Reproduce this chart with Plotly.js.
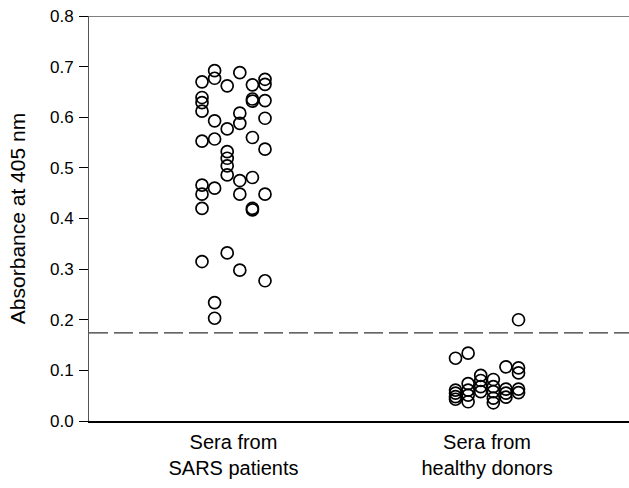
<!DOCTYPE html>
<html><head><meta charset="utf-8">
<script src="https://cdn.plot.ly/plotly-3.0.1.min.js"></script>
<style>html,body{margin:0;padding:0;background:#fff}#c{width:629px;height:488px}</style>
</head><body><div id="c"></div>
<script>
// Categories and tick labels
const categories = ["Sera from<br>SARS patients", "Sera from<br>healthy donors"];
const yTicks = [0, 0.1, 0.2, 0.3, 0.4, 0.5, 0.6, 0.7, 0.8];
const yTickText = ["0.0","0.1","0.2","0.3","0.4","0.5","0.6","0.7","0.8"];
const cutoff = 0.174;

// SARS patients: absorbance values and the column (0-5) each dot sits in
const sarsValues = [0.670,0.639,0.629,0.612,0.553,0.466,0.448,0.420,0.315,
                    0.692,0.677,0.593,0.557,0.460,0.234,0.203,
                    0.662,0.577,0.532,0.519,0.504,0.486,0.332,
                    0.688,0.608,0.588,0.475,0.448,0.298,
                    0.664,0.636,0.632,0.560,0.481,0.420,0.417,
                    0.675,0.665,0.633,0.598,0.537,0.448,0.277];
const sarsColumn = [0,0,0,0,0,0,0,0,0,
                    1,1,1,1,1,1,1,
                    2,2,2,2,2,2,2,
                    3,3,3,3,3,3,
                    4,4,4,4,4,4,4,
                    5,5,5,5,5,5,5];

// Healthy donors
const healthyValues = [0.124,0.061,0.055,0.048,0.043,
                       0.134,0.074,0.061,0.051,0.038,
                       0.090,0.080,0.068,0.058,
                       0.082,0.068,0.058,0.045,0.036,
                       0.107,0.063,0.055,0.047,
                       0.200,0.105,0.095,0.063,0.056];
const healthyColumn = [0,0,0,0,0,
                       1,1,1,1,1,
                       2,2,2,2,
                       3,3,3,3,3,
                       4,4,4,4,
                       5,5,5,5,5];

const colStep = 0.0497;
function xs(group, cols){ return cols.map(c => group + (c - 2.5) * colStep); }

const marker = {symbol:'circle-open', size:12, color:'#000', line:{width:1.7, color:'#000'}};
const traces = [
  {type:'scatter', mode:'markers', x: xs(1, sarsColumn), y: sarsValues, marker: marker, hoverinfo:'y'},
  {type:'scatter', mode:'markers', x: xs(2, healthyColumn), y: healthyValues, marker: marker, hoverinfo:'y'}
];

const font = "Liberation Sans, Arial, sans-serif";
const layout = {
  width:629, height:488,
  margin:{l:89, r:0, t:16, b:67},
  paper_bgcolor:'#fff', plot_bgcolor:'#fff',
  showlegend:false,
  font:{family:font, color:'#000'},
  xaxis:{range:[0.43,2.56], tickvals:[1,2], ticktext:categories, ticks:'',
         ticklabelstandoff:2,
         showgrid:false, zeroline:false, showline:true, linecolor:'#000', linewidth:1.5,
         tickfont:{size:20, family:font, color:'#000'}, fixedrange:true, automargin:false},
  yaxis:{range:[0,0.8], tickvals:yTicks, ticktext:yTickText, ticks:'outside', ticklen:9,
         tickcolor:'#000', tickwidth:1, ticklabelstandoff:2,
         showgrid:false, zeroline:false, showline:true, linecolor:'#555', linewidth:1,
         tickfont:{size:17, family:font, color:'#000'},
         title:{text:'Absorbance at 405 nm', font:{size:21, family:font, color:'#000'}, standoff:18},
         automargin:false, fixedrange:true},
  shapes:[
    {type:'line', xref:'paper', yref:'y', x0:0, x1:1, y0:cutoff, y1:cutoff,
     line:{color:'#333', width:1.3, dash:'19px,6px'}},
    {type:'line', xref:'paper', yref:'y', x0:0, x1:1, y0:0.8, y1:0.8,
     line:{color:'#000', width:1.2}}
  ]
};
Plotly.newPlot('c', traces, layout, {displayModeBar:false, staticPlot:true});
</script></body></html>
